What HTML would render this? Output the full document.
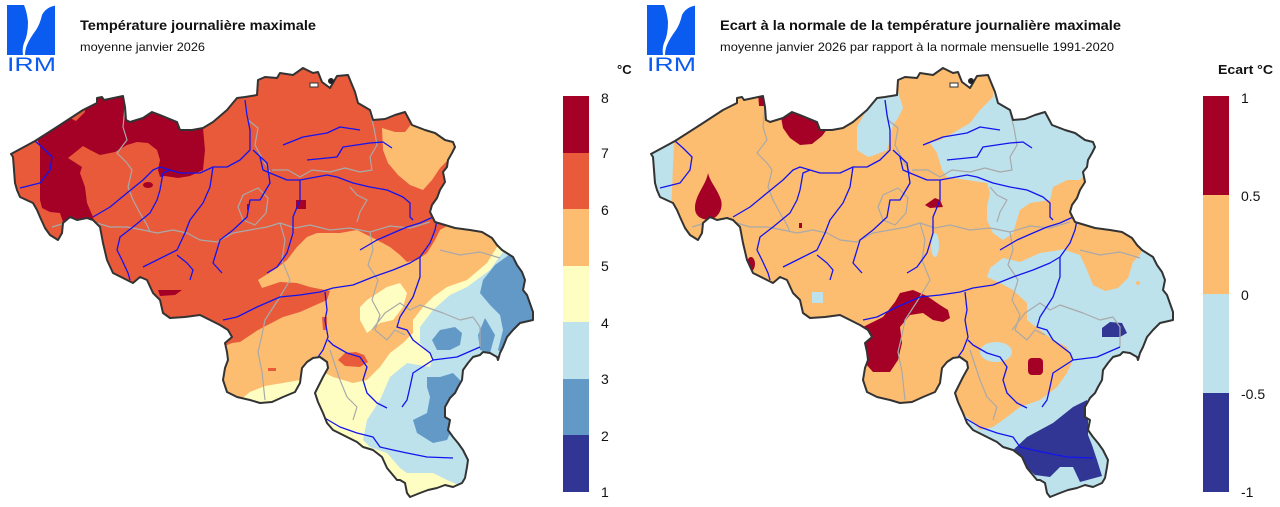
<!DOCTYPE html>
<html><head><meta charset="utf-8"><style>
html,body{margin:0;padding:0;background:#fff;}
svg{display:block;}
text{font-family:"Liberation Sans",Arial,sans-serif;}
</style></head><body>
<svg width="1280" height="507" viewBox="0 0 1280 507" xmlns="http://www.w3.org/2000/svg">
<defs>
<clipPath id="be" clipPathUnits="userSpaceOnUse">
<path id="beout" d="M11,154 L35,141 L60,125 L83,110 L97,103 L97,98 L102,97 L104,100 L123,96 L125,107 L126,120 L130,122 L143,118 L152,112 L160,115 L177,122 L180,130 L192,130 L203,128 L213,122 L227,110 L237,98 L245,97 L257,95 L258,80 L265,77 L277,78 L280,73 L293,75 L303,68 L313,73 L318,72 L322,82 L330,88 L337,76 L348,75 L355,92 L358,103 L370,110 L373,120 L385,119 L395,115 L405,112 L412,125 L425,130 L435,133 L445,140 L453,142 L455,147 L452,153 L448,160 L447,167 L443,172 L445,182 L440,190 L437,198 L432,205 L430,212 L435,222 L445,225 L455,228 L470,230 L482,232 L492,238 L497,245 L502,250 L513,257 L517,265 L522,272 L525,280 L523,290 L527,295 L533,312 L533,320 L520,323 L513,330 L507,337 L503,347 L500,353 L498,360 L497,357 L490,353 L483,352 L480,355 L473,357 L468,363 L463,370 L462,380 L458,387 L455,393 L450,398 L445,407 L445,417 L450,420 L448,430 L453,437 L458,443 L463,450 L468,460 L467,467 L465,478 L462,483 L453,487 L445,485 L437,488 L428,490 L420,493 L410,497 L407,493 L405,483 L400,480 L397,480 L387,468 L382,457 L373,450 L363,447 L357,442 L343,435 L333,430 L327,423 L323,413 L318,402 L315,393 L318,387 L323,377 L328,368 L327,362 L320,357 L313,358 L307,362 L302,368 L300,383 L295,392 L283,397 L272,402 L260,403 L250,400 L237,397 L227,392 L223,380 L225,368 L228,360 L227,352 L225,343 L232,337 L228,330 L220,325 L210,320 L200,315 L185,317 L170,318 L163,313 L160,300 L153,293 L147,280 L140,277 L133,283 L127,280 L113,273 L107,260 L103,243 L100,227 L93,220 L87,218 L77,220 L70,217 L63,223 L62,233 L58,240 L50,235 L45,228 L40,217 L37,210 L33,203 L20,197 L17,190 L15,183 L13,157 Z"/>
</clipPath>
<g id="lines">
<g fill="none" stroke="#a9a9a9" stroke-width="1.2" stroke-linejoin="round">
<polyline points="125,107 123,127 127,140 117,153 127,163 132,170 128,187 133,200 140,213 147,225 150,232"/>
<polyline points="52,227 62,224 72,218"/>
<polyline points="97,223 110,227 127,227 143,230 157,233 173,230 187,233 200,240 217,242 233,233 250,230 267,227 280,223 295,228 310,225 330,230 350,228 370,232 390,226 410,228 430,222"/>
<polygon points="243,195 258,188 268,198 266,213 255,225 243,220 238,207"/>
<polyline points="245,100 248,120 258,128 255,145 263,160 270,172"/>
<polyline points="370,112 374,128 377,145 370,157 372,170 360,172 345,168 330,172 312,170 300,177 288,170 272,170"/>
<polyline points="350,187 357,195 367,200 360,212 357,222"/>
<polyline points="280,223 285,240 282,260 290,280 278,300 265,320 262,335 258,352 262,372 265,400"/>
<polyline points="370,232 373,250 368,265 378,280 372,300 380,315 375,330"/>
<polyline points="340,380 347,397 357,407 353,420"/>
<polyline points="375,330 387,340 395,330 405,335"/>
<polyline points="372,330 385,313 400,303 410,310 420,305 443,313 460,320 473,317 480,327 480,347"/>
<polyline points="440,250 460,255 480,252 500,258"/>
<polyline points="330,350 340,380"/>
</g>
<g fill="none" stroke="#1414ee" stroke-width="1.3" stroke-linejoin="round">
<polyline points="35,141 43,148 52,157 50,170 40,183 20,188"/>
<polyline points="93,217 110,207 127,193 143,180 153,170 160,167 170,170"/>
<polyline points="130,280 128,273 122,260 117,250 120,237 133,227 150,213 157,200 160,190 163,173 170,170 180,173 200,173 213,167 227,167 240,160 250,150 250,130 247,115 245,100"/>
<polyline points="213,167 210,187 203,203 190,220 185,233 177,250 157,260 143,267"/>
<polyline points="177,255 187,263 193,270 190,280"/>
<polyline points="253,150 267,163 270,183 260,200 250,200 247,217 233,230 220,240 217,250 213,263 222,273"/>
<polyline points="260,157 263,170 270,173 287,180 300,180 327,175 337,177 353,183 370,187 387,190 403,197 410,203 410,217 413,220"/>
<polyline points="283,145 303,137 327,133 340,127 360,130"/>
<polyline points="307,160 337,157 343,147 370,143 383,142 392,148"/>
<polyline points="300,180 300,200 293,217 293,233 287,253 277,267 267,273"/>
<polyline points="360,250 377,240 393,233 407,227 420,223 433,217"/>
<polyline points="223,320 237,317 257,307 280,297 300,295 320,292 333,288 353,285 373,277 393,270 410,263 420,257 430,243 435,230 437,220"/>
<polyline points="325,292 327,310 325,320 328,337 323,350 318,357"/>
<polyline points="328,340 333,345 347,353 360,357 367,367 363,380 367,393 377,403 387,408"/>
<polyline points="420,257 420,277 413,297 400,317 397,327 407,330 413,340 430,353 433,360 413,373 410,387 407,400 402,407"/>
<polyline points="433,360 457,357 480,347"/>
<polyline points="323,417 340,427 357,433 373,437 380,447 393,450 407,453 427,457 453,458"/>
</g>
</g>
<g id="logo">
<rect x="7" y="5" width="48" height="50" fill="#0a5cf0"/>
<path d="M24,5 L56,5 L56,5.5 Q46,7 42,15 Q40,24 36,30 Q30,38 27,45 Q25,50 25,55 L23,55 Q22,48 24,43 Q28,35 28,22 Q27,12 24,5 Z" fill="#fff"/>
<text x="7" y="71" font-size="19" fill="#0a5cf0" textLength="49" lengthAdjust="spacingAndGlyphs">IRM</text>
</g>
</defs>

<!-- LEFT PANEL -->
<use href="#logo"/>
<text x="80" y="30" font-size="14" font-weight="bold" fill="#111" textLength="236" lengthAdjust="spacingAndGlyphs">Température journalière maximale</text>
<text x="80" y="51" font-size="12" fill="#111" textLength="125" lengthAdjust="spacingAndGlyphs">moyenne janvier 2026</text>

<g clip-path="url(#be)">
<rect x="0" y="60" width="560" height="450" fill="#e95a3b"/>
<!-- dark red NW -->
<polygon fill="#a50026" points="37,138 70,118 76,121 85,112 83,100 123,90 126,120 143,118 152,112 160,115 177,122 180,130 203,128 205,150 203,170 190,176 178,178 165,176 160,177 158,170 160,160 157,150 148,143 137,142 127,145 115,152 100,155 90,150 83,146 68,158 82,167 80,173 85,187 87,203 93,217 95,228 65,228 60,213 50,212 42,208 40,200 40,147"/>
<ellipse cx="148" cy="185" rx="5" ry="3" fill="#a50026"/>
<rect x="296" y="200" width="10" height="9" fill="#a50026"/>
<polygon fill="#a50026" points="158,290 182,290 175,295 160,296"/>
<rect x="247" y="204" width="2" height="6" fill="#a50026"/>
<!-- NE orange -->
<polygon fill="#fcbd71" points="382,128 395,132 405,132 413,122 430,128 445,138 455,145 450,158 440,168 432,180 423,190 410,185 398,175 388,163 383,150"/>
<!-- south orange -->
<polygon fill="#fcbd71" points="180,352 215,350 232,343 240,342 258,330 283,317 300,312 327,300 330,291 310,287 297,283 280,282 262,288 258,280 277,268 287,260 297,247 307,237 317,233 340,233 357,230 377,240 390,247 400,255 407,262 417,260 427,253 435,240 440,230 447,226 560,200 560,520 180,520"/>
<polygon fill="#e95a3b" points="338,360 345,353 356,352 364,355 368,362 360,367 345,366"/>
<rect x="268" y="368" width="8" height="3" fill="#e95a3b"/>
<polygon fill="#e95a3b" points="322,317 327,317 327,330 323,330"/>
<!-- yellow -->
<polygon fill="#fefec3" points="240,400 250,392 265,386 283,383 300,380 302,392 285,400 260,405"/>
<polygon fill="#fefec3" points="360,307 367,300 387,287 400,283 407,293 403,307 393,320 380,323 367,333 360,320"/>
<polygon fill="#fefec3" points="503,243 497,247 487,263 467,280 447,287 433,297 423,307 413,320 413,333 403,343 390,353 380,367 367,380 353,383 333,377 325,373 315,370 300,520 560,520 560,230"/>
<!-- light blue -->
<polygon fill="#bde2ec" points="503,252 490,270 467,287 450,295 433,310 420,327 420,343 433,357 430,367 407,363 390,377 380,400 367,420 363,440 370,447 387,453 400,468 407,473 433,473 447,480 470,490 560,490 560,240 515,240"/>
<!-- mid blue -->
<polygon fill="#6399c7" points="513,252 495,265 483,280 480,293 490,305 500,315 503,330 498,350 510,360 545,330 545,250"/>
<polygon fill="#6399c7" points="485,318 478,335 480,350 490,353 495,335"/>
<polygon fill="#6399c7" points="432,340 440,330 455,327 462,333 460,345 450,350 437,350"/>
<polygon fill="#6399c7" points="427,377 440,377 453,373 460,380 460,407 453,427 447,440 433,443 417,433 413,420 427,413 430,397 427,387"/>
<use href="#lines"/>
</g>
<use href="#beout" fill="none" stroke="#333" stroke-width="2" stroke-linejoin="round"/>
<polygon points="310,83 318,83 318,87 310,87" fill="#fff" stroke="#333" stroke-width="1"/>
<circle cx="331" cy="81" r="3" fill="#222"/>

<!-- left legend -->
<rect x="563" y="96" width="26" height="57" fill="#a50026"/>
<rect x="563" y="153" width="26" height="56" fill="#e95a3b"/>
<rect x="563" y="209" width="26" height="57" fill="#fcbd71"/>
<rect x="563" y="266" width="26" height="56" fill="#fefec3"/>
<rect x="563" y="322" width="26" height="57" fill="#bde2ec"/>
<rect x="563" y="379" width="26" height="56" fill="#6399c7"/>
<rect x="563" y="435" width="26" height="57" fill="#313695"/>
<g font-size="14" fill="#111">
<text x="601" y="103">8</text>
<text x="601" y="158">7</text>
<text x="601" y="215">6</text>
<text x="601" y="271">5</text>
<text x="601" y="328">4</text>
<text x="601" y="384">3</text>
<text x="601" y="441">2</text>
<text x="601" y="497">1</text>
</g>
<text x="617" y="74" font-size="13" font-weight="bold" fill="#111">°C</text>

<!-- RIGHT PANEL -->
<g transform="translate(640,0)"><use href="#logo"/></g>
<text x="720" y="30" font-size="14" font-weight="bold" fill="#111" textLength="401" lengthAdjust="spacingAndGlyphs">Ecart à la normale de la température journalière maximale</text>
<text x="720" y="51" font-size="12" fill="#111" textLength="394" lengthAdjust="spacingAndGlyphs">moyenne janvier 2026 par rapport à la normale mensuelle 1991-2020</text>

<g transform="translate(640,0)">
<g clip-path="url(#be)">
<rect x="0" y="60" width="560" height="450" fill="#fcbd71"/>
<polygon fill="#bde2ec" points="0,140 34,140 33,165 32,190 31,214 0,214"/>
<polygon fill="#bde2ec" points="217,127 237,92 245,90 257,88 263,108 258,118 253,125 250,140 247,150 235,155 228,157 217,150"/>
<polygon fill="#bde2ec" points="353,80 353,97 340,110 330,123 313,133 300,140 290,143 297,153 302,170 307,177 327,180 347,183 350,193 347,207 347,220 353,233 363,240 373,233 380,210 390,203 410,200 413,187 427,180 440,180 455,165 470,140 470,80"/>
<ellipse cx="295" cy="245" rx="4" ry="12" fill="#bde2ec"/>
<rect x="172" y="292" width="11" height="11" fill="#bde2ec"/>
<polygon fill="#bde2ec" points="347,277 350,268 363,258 380,262 400,253 420,250 428,248 440,253 445,240 460,225 560,225 560,520 300,520 305,415 315,410 325,415 340,430 353,427 367,417 380,407 400,400 417,387 427,373 433,360 427,347 413,340 400,330 387,320 387,303 373,290 360,283"/>
<polygon fill="#fcbd71" points="425,250 432,240 437,228 455,225 480,230 495,237 503,245 500,255 493,262 488,278 478,288 465,291 453,285 447,270 440,255"/>
<circle cx="498" cy="283" r="2" fill="#fcbd71"/>
<ellipse cx="356" cy="352" rx="16" ry="10" fill="#bde2ec"/>
<!-- dark red -->
<polygon fill="#a50026" points="118,92 124,92 124,106 119,106"/>
<polygon fill="#a50026" points="140,112 152,110 160,113 177,120 180,128 188,128 182,136 172,144 160,145 150,138 143,128"/>
<path fill="#a50026" d="M68,173 C66,185 55,195 55,208 C55,218 65,221 72,219 C80,216 83,207 81,200 C78,190 70,182 68,173 Z"/>
<ellipse cx="111" cy="264" rx="4" ry="7" fill="#a50026"/>
<rect x="159" y="223" width="3" height="5" fill="#a50026"/>
<polygon fill="#a50026" points="215,330 223,327 243,317 255,302 260,293 273,290 287,296 300,305 308,310 310,318 303,322 293,320 283,313 270,315 260,327 262,343 258,360 250,372 233,372 225,363 215,350"/>
<rect x="388" y="358" width="15" height="17" rx="4" fill="#a50026"/>
<polygon fill="#a50026" points="285,205 295,198 300,200 303,207 290,208"/>
<!-- dark blue -->
<polygon fill="#313695" points="462,328 470,322 482,323 487,333 480,337 462,337"/>
<polygon fill="#313695" points="370,453 387,437 413,423 433,407 447,400 448,420 448,435 452,445 457,460 462,476 440,482 433,467 420,467 410,477 395,475 380,462"/>
<use href="#lines"/>
</g>
<use href="#beout" fill="none" stroke="#333" stroke-width="2" stroke-linejoin="round"/>
<polygon points="310,83 318,83 318,87 310,87" fill="#fff" stroke="#333" stroke-width="1"/>
<circle cx="331" cy="81" r="3" fill="#222"/>
</g>

<!-- right legend -->
<rect x="1203" y="96" width="26" height="99" fill="#a50026"/>
<rect x="1203" y="195" width="26" height="99" fill="#fcbd71"/>
<rect x="1203" y="294" width="26" height="99" fill="#bde2ec"/>
<rect x="1203" y="393" width="26" height="99" fill="#313695"/>
<g font-size="14" fill="#111">
<text x="1241" y="103">1</text>
<text x="1241" y="201">0.5</text>
<text x="1241" y="300">0</text>
<text x="1241" y="399">-0.5</text>
<text x="1241" y="497">-1</text>
</g>
<text x="1218" y="74" font-size="13" font-weight="bold" fill="#111" textLength="55" lengthAdjust="spacingAndGlyphs">Ecart °C</text>
</svg>
</body></html>
